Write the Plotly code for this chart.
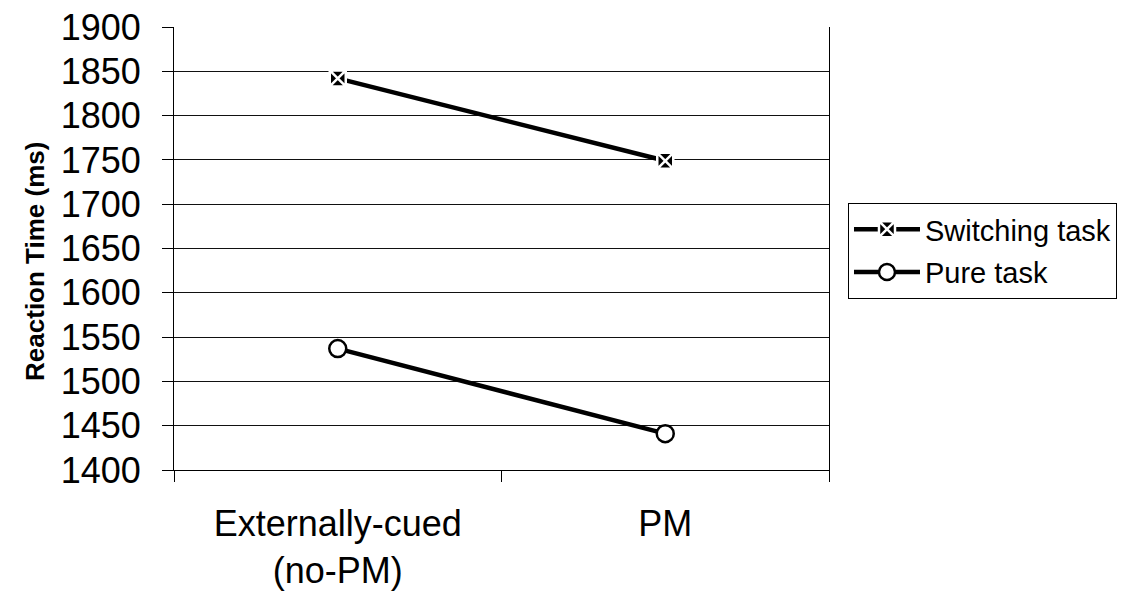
import plotly.graph_objects as go

categories = ["Externally-cued<br>(no-PM)", "PM"]
switching = [1842, 1749]
pure = [1537, 1441]
y_ticks = list(range(1400, 1901, 50))

fig = go.Figure()
fig.add_trace(go.Scatter(
    x=categories, y=switching, name="Switching task", mode="lines+markers",
    legendgroup="a",
    line=dict(color="black", width=4.5),
    marker=dict(symbol="square-x", size=16, color="black",
                line=dict(color="white", width=2.5)),
))
fig.add_trace(go.Scatter(
    x=categories, y=pure, name="Pure task", mode="lines+markers",
    legendgroup="b",
    line=dict(color="black", width=4.5),
    marker=dict(symbol="circle", size=17, color="white",
                line=dict(color="black", width=2.5)),
))

fig.update_layout(
    width=1121, height=591,
    margin=dict(l=174, r=292, t=27, b=121, autoexpand=False),
    plot_bgcolor="white", paper_bgcolor="white",
    font=dict(family="Arial, Liberation Sans, sans-serif", color="black"),
    showlegend=True,
    legend=dict(
        x=1.029, y=0.603, xanchor="left", yanchor="top",
        bordercolor="black", borderwidth=1,
        font=dict(size=29, family="Arial, Liberation Sans, sans-serif"),
        tracegroupgap=2, traceorder="grouped",
        itemwidth=66,
    ),
    xaxis=dict(
        type="category", range=[-0.5, 1.5], automargin=False,
        showline=True, linecolor="black", linewidth=1,
        ticks="outside", tickson="boundaries", ticklen=11, tickcolor="black",
        tickfont=dict(size=36), showgrid=False,
        ticklabelstandoff=22,
    ),
    yaxis=dict(
        range=[1400, 1900], tickvals=y_ticks, automargin=False,
        showline=True, linecolor="black", linewidth=1, mirror=True,
        ticks="outside", ticklen=11, tickcolor="black",
        tickfont=dict(size=36), showgrid=True, gridcolor="#111", gridwidth=1,
        ticklabelstandoff=14,
        zeroline=False,
    ),
    annotations=[dict(
        text="<b>Reaction Time (ms)</b>", textangle=-90,
        x=-0.212, y=0.47, xref="paper", yref="paper",
        xanchor="center", yanchor="middle", showarrow=False,
        font=dict(size=26),
    )],
)

fig.write_html("out.html")
